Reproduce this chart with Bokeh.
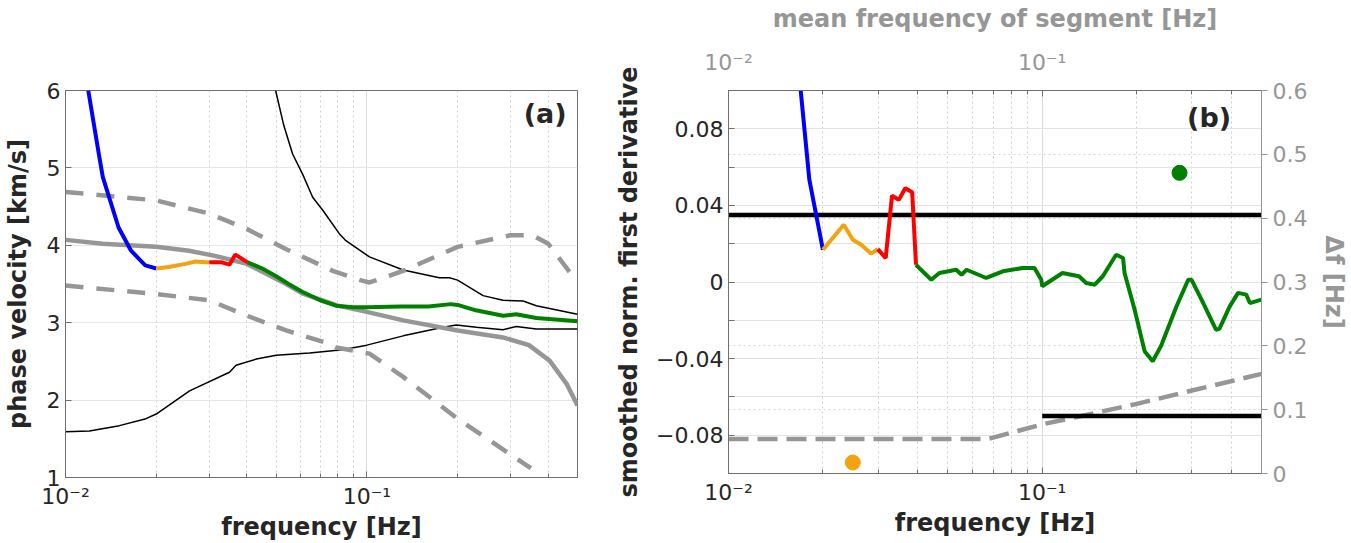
from bokeh.plotting import figure
from bokeh.layouts import row
from bokeh.models import Range1d, LinearAxis, LogAxis, FixedTicker, Grid, Label
from bokeh.embed import file_html
from bokeh.resources import INLINE

# ---------------- panel (a) data ----------------
blue_f = [0.0119, 0.0129, 0.0133, 0.0150, 0.0165, 0.0184, 0.0200]
blue_v = [6.0, 5.18, 4.88, 4.23, 3.93, 3.74, 3.70]
orange_f = [0.0200, 0.0220, 0.0250, 0.0270, 0.0290, 0.0300]
orange_v = [3.70, 3.72, 3.76, 3.79, 3.78, 3.78]
red_f = [0.0300, 0.0330, 0.0350, 0.0366, 0.0402]
red_v = [3.78, 3.78, 3.75, 3.88, 3.78]
green_f = [0.0402, 0.045, 0.050, 0.055, 0.061, 0.070, 0.079, 0.090, 0.100, 0.130,
           0.160, 0.190, 0.200, 0.230, 0.283, 0.313, 0.365, 0.500]
green_v = [3.78, 3.70, 3.60, 3.50, 3.40, 3.29, 3.22, 3.20, 3.20, 3.21,
           3.21, 3.24, 3.23, 3.16, 3.09, 3.11, 3.06, 3.02]
ref_f = [0.01, 0.0133, 0.02, 0.0257, 0.0316, 0.040, 0.054, 0.061, 0.080, 0.100,
         0.132, 0.200, 0.283, 0.345, 0.404, 0.460, 0.500]
ref_v = [4.07, 4.02, 3.98, 3.93, 3.86, 3.76, 3.50, 3.38, 3.22, 3.14,
         3.03, 2.90, 2.81, 2.71, 2.51, 2.21, 1.93]
upper_dash_f = [0.01, 0.02, 0.03, 0.04, 0.054, 0.068, 0.077, 0.095, 0.102, 0.132,
                0.200, 0.300, 0.355, 0.400, 0.476, 0.500]
upper_dash_v = [4.69, 4.58, 4.41, 4.21, 3.95, 3.77, 3.67, 3.55, 3.52, 3.67,
                3.98, 4.13, 4.13, 4.02, 3.63, 3.55]
lower_dash_f = [0.01, 0.02, 0.03, 0.04, 0.054, 0.072, 0.079, 0.102, 0.132, 0.200, 0.350]
lower_dash_v = [3.48, 3.37, 3.29, 3.09, 2.90, 2.75, 2.68, 2.60, 2.30, 1.76, 1.12]
upper_bound_f = [0.0498, 0.053, 0.0567, 0.0612, 0.0661, 0.0715, 0.081, 0.0852, 0.102,
                 0.132, 0.174, 0.188, 0.200, 0.243, 0.283, 0.330, 0.365, 0.500]
upper_bound_v = [6.0, 5.55, 5.18, 4.92, 4.62, 4.45, 4.15, 4.06, 3.85,
                 3.68, 3.58, 3.58, 3.55, 3.35, 3.29, 3.28, 3.22, 3.11]
lower_bound_f = [0.01, 0.012, 0.0151, 0.0185, 0.020, 0.0258, 0.035, 0.0368, 0.043,
                 0.050, 0.0645, 0.0831, 0.100, 0.132, 0.179, 0.198, 0.231, 0.283,
                 0.313, 0.365, 0.500]
lower_bound_v = [1.59, 1.60, 1.67, 1.76, 1.82, 2.12, 2.36, 2.45, 2.53,
                 2.58, 2.61, 2.65, 2.71, 2.83, 2.94, 2.97, 2.94, 2.91,
                 2.95, 2.92, 2.92]

# ---------------- panel (b) data ----------------
blue_b_f = [0.0165, 0.0170, 0.0181, 0.0200]
blue_b_v = [0.120, 0.0995, 0.0534, 0.0168]
orange_b_f = [0.0200, 0.0233, 0.0249, 0.0265, 0.0285, 0.0299]
orange_b_v = [0.0168, 0.0299, 0.0221, 0.0195, 0.0148, 0.0172]
red_b_f = [0.0299, 0.0317, 0.0332, 0.0349, 0.0366, 0.0385, 0.0396]
red_b_v = [0.0172, 0.0125, 0.0450, 0.0429, 0.0490, 0.0469, 0.0090]
green_b_f = [0.0396, 0.0400, 0.0443, 0.0470, 0.0532, 0.0553, 0.0574, 0.0663, 0.0749,
             0.0866, 0.0945, 0.0993, 0.1000, 0.116, 0.131, 0.138, 0.147, 0.156,
             0.172, 0.181, 0.183, 0.197, 0.212, 0.225, 0.239, 0.268, 0.292, 0.299,
             0.322, 0.358, 0.367, 0.396, 0.421, 0.447, 0.459, 0.500]
green_b_v = [0.0090, 0.0082, 0.0012, 0.0047, 0.0064, 0.0038, 0.0064, 0.0021, 0.0056,
             0.0073, 0.0073, 0.0012, -0.0022, 0.0047, 0.0030, -0.0005, -0.0014, 0.0030,
             0.0142, 0.0125, 0.0047, -0.0144, -0.0361, -0.0414, -0.0335, -0.0127, 0.0012, 0.0012,
             -0.0092, -0.0249, -0.0245, -0.0127, -0.0057, -0.0066, -0.0110, -0.0092]
thresh_f = [0.01, 0.5]
thresh_v = [0.035, 0.035]
df_thresh_f = [0.1, 0.5]
df_thresh = [0.09, 0.09]
df_f = [0.01, 0.067, 0.1, 0.13, 0.2, 0.3, 0.5]
df_v = [0.054, 0.054, 0.077, 0.089, 0.109, 0.130, 0.156]
dot_f = [0.0249, 0.274]
dot_df = [0.0172, 0.471]
dot_colors = ["#F2A30F", "#008000"]

# tick definitions
decade_ticks = [0.01, 0.1]
decade_labels = {0.01: "10⁻²", 0.1: "10⁻¹"}
minor_log_ticks = [0.02, 0.03, 0.04, 0.05, 0.06, 0.07, 0.08, 0.09, 0.2, 0.3, 0.4, 0.5]
vel_ticks = [1, 2, 3, 4, 5, 6]
deriv_ticks = [-0.08, -0.04, 0, 0.04, 0.08]
deriv_minor = [-0.06, -0.02, 0.02, 0.06]
df_ticks = [0, 0.1, 0.2, 0.3, 0.4, 0.5, 0.6]
df_grid = [0.1, 0.2, 0.4, 0.5]

FONT = "DejaVu Sans"
DARK = "#262626"
GRAY = "#969696"
AXC = "#707070"
BLUE, ORANGE, RED, GREEN = "#0000FF", "#F2A30F", "#FF0000", "#008000"


def style_axis(ax, color=DARK, label_color=DARK, line_color=AXC):
    ax.axis_label_text_font = FONT
    ax.axis_label_text_font_style = "bold"
    ax.axis_label_text_font_size = "24px"
    ax.axis_label_text_color = label_color
    ax.major_label_text_font = FONT
    ax.major_label_text_font_size = "22px"
    ax.major_label_text_color = color
    ax.axis_line_color = line_color
    ax.major_tick_line_color = line_color
    ax.minor_tick_line_color = line_color
    ax.major_tick_in = 6
    ax.major_tick_out = 0
    ax.minor_tick_in = 4
    ax.minor_tick_out = 0


def log_ticker():
    return FixedTicker(ticks=decade_ticks, minor_ticks=minor_log_ticks)


# ---------------- figure (a) ----------------
p1 = figure(x_axis_type="log", x_range=Range1d(0.01, 0.5), y_range=Range1d(1, 6),
            frame_width=512, frame_height=387, min_border_left=63, min_border_right=35,
            min_border_top=90, min_border_bottom=66, output_backend="svg",
            toolbar_location=None)
p1.outline_line_color = AXC

p1.xaxis.axis_label = "frequency [Hz]"
p1.yaxis.axis_label = "phase velocity [km/s]"
p1.yaxis.ticker = FixedTicker(ticks=vel_ticks)
p1.xaxis.ticker = log_ticker()
p1.xaxis.major_label_overrides = decade_labels
style_axis(p1.xaxis[0])
style_axis(p1.yaxis[0])
p1.xaxis.major_label_standoff = 6
p1.xaxis.axis_label_standoff = 1
p1.yaxis.axis_label_standoff = 12

p1.xgrid.grid_line_color = "#dcdcdc"
p1.xgrid.minor_grid_line_color = "#d0d0d0"
p1.xgrid.minor_grid_line_dash = "2 3"
p1.ygrid.grid_line_color = "#e6e6e6"

p1.line(upper_bound_f, upper_bound_v, color="black", line_width=1.5)
p1.line(lower_bound_f, lower_bound_v, color="black", line_width=1.5)
p1.line(upper_dash_f, upper_dash_v, color=GRAY, line_width=4.5, line_dash="18 13")
p1.line(lower_dash_f, lower_dash_v, color=GRAY, line_width=4.5, line_dash="18 13")
p1.line(ref_f, ref_v, color=GRAY, line_width=4.5)
p1.line(blue_f, blue_v, color=BLUE, line_width=4)
p1.line(orange_f, orange_v, color=ORANGE, line_width=4)
p1.line(red_f, red_v, color=RED, line_width=4)
p1.line(green_f, green_v, color=GREEN, line_width=4)

p1.add_layout(Label(x=0.46, y=5.9, text="(a)", text_align="right", text_baseline="top",
                    text_font=FONT, text_font_style="bold", text_font_size="27px",
                    text_color=DARK))

# ---------------- figure (b) ----------------
p2 = figure(x_axis_type="log", x_range=Range1d(0.01, 0.5), y_range=Range1d(-0.1, 0.1),
            frame_width=533, frame_height=383, min_border_left=116, min_border_right=92,
            min_border_top=88, min_border_bottom=72, output_backend="svg",
            toolbar_location=None)
p2.extra_y_ranges = {"df": Range1d(0, 0.6)}
p2.outline_line_color = AXC
p2.xaxis.axis_label = "frequency [Hz]"
p2.yaxis.axis_label = "smoothed norm. first derivative"
p2.xaxis.ticker = log_ticker()
p2.xaxis.major_label_overrides = decade_labels
p2.yaxis.ticker = FixedTicker(ticks=deriv_ticks, minor_ticks=deriv_minor)
style_axis(p2.xaxis[0])
style_axis(p2.yaxis[0])
p2.yaxis.minor_tick_in = 6
p2.xaxis.major_label_standoff = 6
p2.xaxis.axis_label_standoff = 1
p2.yaxis.axis_label_standoff = 10

top_ax = LogAxis(ticker=log_ticker(), axis_label="mean frequency of segment [Hz]",
                 major_label_overrides=decade_labels)
style_axis(top_ax, color=GRAY, label_color=GRAY)
top_ax.major_label_standoff = 16
top_ax.axis_label_standoff = 14
p2.add_layout(top_ax, "above")

right_ax = LinearAxis(y_range_name="df", ticker=FixedTicker(ticks=df_ticks),
                      axis_label="Δf [Hz]")
style_axis(right_ax, color=GRAY, label_color=GRAY, line_color=GRAY)
right_ax.major_tick_in = 0
right_ax.major_tick_out = 6
right_ax.axis_label_standoff = 10
p2.add_layout(right_ax, "right")

p2.xgrid.grid_line_color = "#dcdcdc"
p2.xgrid.minor_grid_line_color = "#d0d0d0"
p2.xgrid.minor_grid_line_dash = "2 3"
p2.ygrid.grid_line_color = "#e3e3e3"
p2.ygrid.minor_grid_line_color = "#e3e3e3"
p2.add_layout(Grid(dimension=1, ticker=FixedTicker(ticks=df_grid), y_range_name="df",
                   grid_line_color="#d6d6d6", grid_line_dash="2 3"))

p2.line(df_f, df_v, y_range_name="df", color=GRAY, line_width=4.5, line_dash="20 9")
p2.line(thresh_f, thresh_v, color="black", line_width=4.5)
p2.line(df_thresh_f, df_thresh, y_range_name="df", color="black", line_width=4.5)
p2.line(blue_b_f, blue_b_v, color=BLUE, line_width=4)
p2.line(orange_b_f, orange_b_v, color=ORANGE, line_width=4)
p2.line(red_b_f, red_b_v, color=RED, line_width=4)
p2.line(green_b_f, green_b_v, color=GREEN, line_width=4)
p2.scatter(dot_f, dot_df, y_range_name="df", color=dot_colors, size=15)

p2.add_layout(Label(x=0.40, y=0.094, text="(b)", text_align="right", text_baseline="top",
                    text_font=FONT, text_font_style="bold", text_font_size="27px",
                    text_color=DARK))

layout = row(p1, p2, spacing=0)
open("out.html", "w").write(file_html(layout, INLINE))
